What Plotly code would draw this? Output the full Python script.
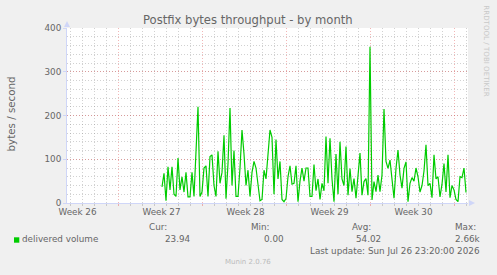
import plotly.graph_objects as go

# ---- data ----
# bytes / second, one sample every 4 hours, starting 7.92 days after the left edge
values = [37, 68, 5, 83, 30, 83, 20, 15, 103, 30,
          60, 25, 70, 14, 14, 70, 15, 112, 220, 15,
          25, 80, 85, 15, 106, 110, 40, 15, 118, 45,
          70, 155, 10, 90, 217, 40, 120, 15, 15, 80,
          167, 112, 40, 75, 15, 70, 95, 80, 45, 5,
          8, 75, 55, 120, 167, 150, 20, 145, 55, 95,
          8, 3, 10, 60, 85, 43, 45, 85, 3, 50,
          80, 50, 80, 80, 15, 15, 88, 28, 55, 8,
          45, 28, 152, 45, 148, 55, 3, 112, 20, 140,
          55, 40, 129, 18, 79, 26, 56, 11, 72, 114,
          18, 49, 56, 18, 357, 7, 49, 26, 64, 26,
          64, 215, 95, 79, 98, 56, 11, 79, 121, 64,
          34, 79, 94, 3, 45, 58, 50, 80, 60, 25,
          40, 73, 133, 40, 45, 12, 110, 55, 60, 14,
          43, 90, 25, 110, 12, 40, 30, 8, 3, 60,
          58, 80, 24]
start_day = 7.9167
step_day = 1 / 6
days = [start_day + i * step_day for i in range(len(values))]

range_days = 33.4167
week_labels = ["Week 26", "Week 27", "Week 28", "Week 29", "Week 30"]
label_days = [0.875 + 7 * k for k in range(5)]
major_days = [4.275 + 7 * k for k in range(5)]
minor_days = [0.275 + k for k in range(34) if (k - 4) % 7 != 0 and 0.275 + k < range_days]

y_ticks = [0, 100, 200, 300, 400]

series_name = "delivered volume"
stat_heads = ["Cur:", "Min:", "Avg:", "Max:"]
stat_vals = ["23.94", "0.00", "54.02", "2.66k"]
last_update = "Last update: Sun Jul 26 23:20:00 2026"

# ---- layout helpers ----
W, H = 497, 275
L, R, T, B = 67, 468, 28, 203
def PX(x): return (x - L) / (R - L)
def PY(y): return (B - y) / (B - T)

FONT = "DejaVu Sans"
TXT = "#666666"
AXIS = "#CFD6F8"
GRID = "rgba(140,140,140,0.4)"
MGRID = "rgba(225,80,80,0.42)"
DASH = "1px,2px"
fs = 8.8

fig = go.Figure()
fig.add_trace(go.Scatter(x=days, y=values, mode="lines", name=series_name,
                         line=dict(color="#00CC00", width=1.2), showlegend=False))
fig.add_trace(go.Scatter(x=[None], y=[None], xaxis="x2", showlegend=False, hoverinfo="skip"))

fig.update_layout(
    width=W, height=H, autosize=False,
    margin=dict(l=L, r=W - R, t=T, b=H - B, pad=0),
    paper_bgcolor="#F0F0F0", plot_bgcolor="#FFFFFF",
    font=dict(family=FONT, size=fs, color=TXT),
    xaxis=dict(range=[0, range_days], tickmode="array", tickvals=label_days, ticktext=week_labels,
               showgrid=False, zeroline=False, showline=True, linecolor=AXIS, linewidth=1,
               ticks="", tickfont=dict(size=fs, color=TXT),
               minor=dict(tickmode="array", tickvals=minor_days, showgrid=True, gridcolor=GRID,
                          griddash=DASH, gridwidth=1, ticks="outside", ticklen=2, tickcolor=GRID)),
    xaxis2=dict(range=[0, range_days], overlaying="x", anchor="y", side="bottom",
                tickmode="array", tickvals=major_days, showticklabels=False,
                showgrid=True, gridcolor=MGRID, griddash=DASH, gridwidth=1,
                ticks="outside", ticklen=2, tickcolor=MGRID, zeroline=False, showline=False),
    yaxis=dict(range=[0, 400], tickmode="array", tickvals=y_ticks, showgrid=True,
               gridcolor=MGRID, griddash=DASH, gridwidth=1, zeroline=False,
               showline=True, linecolor=AXIS, linewidth=1, ticks="outside", ticklen=3,
               tickcolor=AXIS, tickfont=dict(size=fs, color=TXT),
               minor=dict(dtick=20, showgrid=True, gridcolor=GRID, griddash=DASH, gridwidth=1)),
)

ann = []
def text(x, y, s, xanchor="center", size=fs, color=TXT, angle=0):
    ann.append(dict(x=PX(x), y=PY(y), xref="paper", yref="paper", text=s, showarrow=False,
                    xanchor=xanchor, yanchor="middle", textangle=angle,
                    font=dict(family=FONT, size=size, color=color)))

text(248, 20.5, "Postfix bytes throughput - by month", size=11.6)
text(10.5, 114, "bytes / second", angle=-90, size=10.3)
text(486.7, 51, "RRDTOOL / TOBI OETIKER", angle=90, size=7.1, color="#C8C8C8")
for cx, h in zip([157.5, 260, 361.8, 465.8], stat_heads):
    text(cx, 226.7, h)
text(20.3, 239.3, series_name, xanchor="left")
for rx, v in zip([192.7, 286, 383.3, 482.7], stat_vals):
    text(rx, 239.3, v, xanchor="right")
text(482.3, 251, last_update, xanchor="right")
text(247.8, 262.3, "Munin 2.0.76", size=7, color="#BBBBBB")
fig.update_layout(annotations=ann)

def path(pts):
    return "M " + " L ".join(f"{PX(x)},{PY(y)}" for x, y in pts) + " Z"

fig.update_layout(shapes=[
    dict(type="rect", xref="paper", yref="paper", x0=PX(14), x1=PX(19.3), y0=PY(242.7), y1=PY(237.3),
         fillcolor="#00CC00", line=dict(width=0)),
    dict(type="path", xref="paper", yref="paper", path=path([(64, 27), (70, 27), (67, 21)]),
         fillcolor=AXIS, line=dict(width=0)),
    dict(type="path", xref="paper", yref="paper", path=path([(469, 200), (469, 206), (475, 203)]),
         fillcolor=AXIS, line=dict(width=0)),
])

fig.write_html("out.html")
